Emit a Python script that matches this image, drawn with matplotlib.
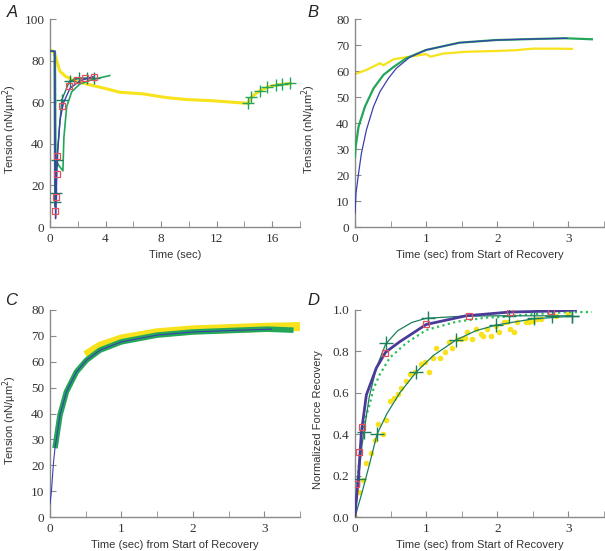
import matplotlib.pyplot as plt
from matplotlib.ticker import MultipleLocator

# ---- panel A ----
a_yel_t = [0, 0.25, 0.4, 0.7, 1.1, 1.7, 2.6, 4.1, 5.0, 6.7, 8.4, 9.8, 11.7, 13.5, 14.25]
a_yel_v = [85, 84.5, 82, 75, 72.5, 70.5, 68.8, 66.4, 64.8, 64.0, 62.2, 61.3, 60.7, 59.8, 59.5]
a_rec_t = [14.25, 14.5, 15.1, 15.65, 16.25, 16.7, 17.3]
a_rec_v = [59.5, 62.5, 65.5, 67.2, 68.2, 68.6, 69.0]

a_blue_t = [0, 0.35, 0.4, 0.45, 0.53, 0.72, 0.96, 1.44, 2.16, 3.1]
a_blue_v = [84.5, 84.5, 4, 16, 33.8, 51.4, 59.5, 66.7, 70.3, 72.3]
a_sq_t = [0.38, 0.43, 0.48, 0.53, 0.85, 1.39, 1.97, 2.55, 3.17]
a_sq_v = [7.5, 14.3, 25.7, 34, 58.4, 67.8, 70.7, 71.8, 72.3]

a_teal_t = [0, 0.3, 0.34, 0.36, 0.43, 0.48, 0.85, 1.41, 2.07, 2.64, 3.17]
a_teal_v = [84.5, 84.5, 10, 11.8, 16.5, 32, 61.2, 70.2, 71.4, 71.6, 71.6]
a_teal_mk_t = [0.36, 0.43, 0.48, 0.85, 1.41, 2.07, 2.64, 3.17]
a_teal_mk_v = [11.8, 16.5, 32, 61.2, 70.2, 71.4, 71.6, 71.6]

a_grn_t = [0, 0.38, 0.42, 0.5, 0.7, 0.93, 1.0, 1.2, 1.56, 2.16, 3.1, 4.3]
a_grn_v = [84.5, 84.5, 33, 31, 29, 27, 43, 57.8, 65, 68.8, 71, 72.8]

# ---- panel B ----
b_yel_t = [0, 0.16, 0.35, 0.4, 0.54, 0.72, 1.0, 1.06, 1.24, 1.56, 1.98, 2.26, 2.5, 2.86, 3.05]
b_yel_v = [58.8, 60.4, 63, 62.2, 64.5, 65.3, 66.5, 65.5, 66.7, 67.4, 67.7, 68.0, 68.6, 68.6, 68.5]
b_grn_t = [0, 0.01, 0.05, 0.14, 0.26, 0.4, 0.54, 0.72, 1.0, 1.47, 1.98, 2.5, 2.96, 3.33]
b_grn_v = [27, 31, 38.6, 46.3, 53.3, 58.5, 61.5, 64.9, 68.1, 70.9, 71.9, 72.3, 72.6, 72.2]
b_blu_t = [0, 0.014, 0.05, 0.09, 0.16, 0.26, 0.35, 0.47, 0.58, 0.77, 1.0, 1.47, 1.98, 2.5, 2.98]
b_blu_v = [5.3, 13, 20.6, 28.3, 37.3, 46.3, 52, 57.2, 61, 65.3, 68.1, 70.9, 71.9, 72.3, 72.6]

# ---- panel C ----
c_yel_t = [0.5, 0.7, 1.0, 1.5, 2.0, 2.5, 3.0, 3.5]
c_yel_v = [62.5, 66, 68.8, 71.2, 72.3, 72.8, 73.3, 73.6]
c_grn_t = [0.07, 0.14, 0.23, 0.37, 0.51, 0.7, 1.0, 1.5, 2.0, 2.56, 3.04, 3.41]
c_grn_v = [26.6, 39.4, 48.4, 56.1, 60.6, 64.5, 67.7, 70.3, 71.5, 72.1, 72.6, 72.2]
c_blu_t = [0, 0.02, 0.05, 0.07, 0.14, 0.23, 0.37, 0.51, 0.7, 1.0, 1.5, 2.0, 2.56, 3.1]
c_blu_v = [5, 10, 21.4, 26.6, 39.4, 48.4, 56.1, 60.6, 64.5, 67.7, 70.3, 71.5, 72.1, 72.6]

# ---- panel D ----
d_blu_t = [0, 0.01, 0.05, 0.09, 0.16, 0.3, 0.43, 0.63, 1.0, 1.56, 2.17, 2.77, 3.1]
d_blu_v = [0, 0.05, 0.2, 0.41, 0.59, 0.72, 0.796, 0.847, 0.93, 0.972, 0.99, 0.995, 1.0]
d_sq_t = [0.02, 0.06, 0.1, 0.42, 1.0, 1.6, 2.18, 2.76]
d_sq_v = [0.158, 0.316, 0.437, 0.79, 0.93, 0.972, 0.99, 0.996]
d_dot_t = [0, 0.03, 0.07, 0.1, 0.15, 0.21, 0.26, 0.35, 0.49, 0.72, 1.0, 1.42, 1.84, 2.0, 2.5, 3.0, 3.33]
d_dot_v = [0, 0.17, 0.3, 0.4, 0.48, 0.55, 0.62, 0.69, 0.77, 0.84, 0.903, 0.943, 0.963, 0.965, 0.98, 0.99, 0.99]
d_fit1_t = [0, 0.05, 0.1, 0.2, 0.3, 0.43, 0.6, 0.8, 1.0, 1.5, 2.0, 3.05]
d_fit1_v = [0, 0.19, 0.35, 0.58, 0.72, 0.835, 0.9, 0.94, 0.96, 0.97, 0.972, 0.972]
d_fit1_mk_t = [0.05, 0.43, 1.02, 2.17, 2.77, 3.05]
d_fit1_mk_v = [0.183, 0.839, 0.963, 0.972, 0.972, 0.972]
d_fit2_t = [0, 0.1, 0.2, 0.31, 0.45, 0.63, 0.86, 1.1, 1.42, 1.7, 1.98, 2.5, 3.05]
d_fit2_v = [0, 0.12, 0.25, 0.40, 0.5, 0.6, 0.70, 0.78, 0.855, 0.9, 0.927, 0.957, 0.97]
d_fit2_mk_t = [0.12, 0.31, 0.86, 1.42, 1.98, 2.52, 3.05]
d_fit2_mk_v = [0.41, 0.40, 0.70, 0.855, 0.927, 0.96, 0.97]
d_yel_t = [0, 0.06, 0.11, 0.16, 0.22, 0.28, 0.33, 0.39, 0.44, 0.49, 0.55, 0.6, 0.65, 0.71,
           0.77, 0.84, 0.93, 0.99, 1.04, 1.1, 1.14, 1.2, 1.26, 1.32, 1.37, 1.43, 1.49, 1.55,
           1.58, 1.65, 1.7, 1.77, 1.8, 1.86, 1.91, 1.98, 2.02, 2.09, 2.13, 2.18, 2.24, 2.28,
           2.4, 2.45, 2.5, 2.56, 2.62, 2.82, 3.0]
d_yel_v = [0.0, 0.12, 0.18, 0.26, 0.31, 0.37, 0.45, 0.40, 0.47, 0.56, 0.576, 0.594, 0.625, 0.657,
           0.689, 0.70, 0.738, 0.747, 0.70, 0.767, 0.815, 0.767, 0.796, 0.844, 0.818, 0.86, 0.86, 0.865,
           0.895, 0.86, 0.908, 0.882, 0.875, 0.908, 0.875, 0.924, 0.895, 0.94, 0.94, 0.91, 0.895, 0.94,
           0.94, 0.94, 0.947, 0.957, 0.957, 0.973, 0.985]

YEL = '#f7e21b'
GRN = '#23a65a'
TEAL = '#1b7f5c'
BLU = '#3b3fae'
PUR = '#4a3b98'
RED = '#e2505e'

serif = 'Liberation Serif'
sans = 'Liberation Sans'

fig = plt.figure(figsize=(6.05, 5.51), dpi=100)
W, H = 605, 551


def make_ax(l, t, r, b):
    ax = fig.add_axes([l / W, 1 - b / H, (r - l) / W, (b - t) / H])
    for s in ['top', 'right']:
        ax.spines[s].set_visible(False)
    for s in ['left', 'bottom']:
        ax.spines[s].set_color('#8a8a8a')
        ax.spines[s].set_linewidth(1.0)
    ax.tick_params(which='both', direction='in', color='#8a8a8a', labelcolor='#333333',
                   labelsize=9.5, pad=4, length=4)
    return ax


def finish(ax, xlabel, ylabel, ylab_px):
    w = ax.get_position().width * W
    ax.set_xlabel(xlabel, family=sans, fontsize=8, color='#333333', labelpad=4)
    ax.set_ylabel(ylabel, family=sans, fontsize=8, color='#333333')
    ax.yaxis.set_label_coords(-ylab_px / w, 0.47)
    for lab in ax.get_xticklabels() + ax.get_yticklabels():
        lab.set_family(serif)


TENS = 'Tension (nN/µm$^2$)'
REC = 'Time (sec) from Start of Recovery'

# Panel A
axA = make_ax(50, 19, 300, 227)
axA.plot(a_yel_t, a_yel_v, color=YEL, lw=2.2, zorder=2)
axA.plot(a_rec_t, a_rec_v, color=YEL, lw=2.2, zorder=2)
axA.plot(a_rec_t, a_rec_v, ls='none', marker='+', ms=9, mew=1.0, color=GRN, zorder=4)
axA.plot(a_grn_t, a_grn_v, color=GRN, lw=1.2, zorder=3)
axA.plot(a_teal_t, a_teal_v, color=TEAL, lw=1.0, zorder=3)
axA.plot(a_teal_mk_t, a_teal_mk_v, ls='none', marker='+', ms=9, mew=1.0, color=TEAL, zorder=4)
axA.plot(a_blue_t, a_blue_v, color=BLU, lw=1.0, zorder=4)
axA.plot(a_sq_t, a_sq_v, ls='none', marker='s', ms=5, mfc='none', mec=RED, mew=0.9, zorder=5)
axA.set_xlim(0, 18)
axA.set_ylim(0, 100)
axA.set_xticks([0, 4, 8, 12, 16])
axA.xaxis.set_minor_locator(MultipleLocator(2))
axA.set_yticks([0, 20, 40, 60, 80, 100])
finish(axA, 'Time (sec)', TENS, 31)
fig.text(7 / W, 1 - 17 / H, 'A', family=sans, style='italic', fontsize=12, color='#222222',
         va='baseline')

# Panel B
axB = make_ax(355, 19, 604, 227)
axB.plot(b_yel_t, b_yel_v, color=YEL, lw=1.6, zorder=2)
axB.plot(b_grn_t, b_grn_v, color=GRN, lw=1.6, zorder=3)
axB.plot(b_blu_t, b_blu_v, color=BLU, lw=0.9, zorder=4)
axB.set_xlim(0, 3.5)
axB.set_ylim(0, 80)
axB.set_xticks([0, 1, 2, 3])
axB.xaxis.set_minor_locator(MultipleLocator(0.5))
axB.set_yticks(range(0, 81, 10))
finish(axB, REC, TENS, 37)
fig.text(307 / W, 1 - 17 / H, 'B', family=sans, style='italic', fontsize=12, color='#222222',
         va='baseline')

# Panel C
axC = make_ax(50, 310, 300, 517)
axC.plot(c_yel_t, c_yel_v, color=YEL, lw=6.5, solid_capstyle='butt', zorder=2)
axC.plot(c_grn_t, c_grn_v, color=GRN, lw=4.0, solid_capstyle='butt', zorder=3)
axC.plot(c_blu_t, c_blu_v, color=BLU, lw=0.8, zorder=4)
axC.set_xlim(0, 3.5)
axC.set_ylim(0, 80)
axC.set_xticks([0, 1, 2, 3])
axC.xaxis.set_minor_locator(MultipleLocator(0.5))
axC.set_yticks(range(0, 81, 10))
finish(axC, REC, TENS, 31)
fig.text(5 / W, 1 - 305 / H, 'C', family=sans, style='italic', fontsize=12, color='#222222',
         va='baseline')

# Panel D
axD = make_ax(355, 310, 604, 517)
axD.plot(d_yel_t, d_yel_v, ls='none', marker='o', ms=4, color=YEL, mec='none', zorder=2)
axD.plot(d_dot_t, d_dot_v, color='#2fbf5a', lw=1.6, ls=(0, (1, 1.5)), zorder=3)
axD.plot(d_fit2_t, d_fit2_v, color=TEAL, lw=0.9, zorder=3)
axD.plot(d_fit2_mk_t, d_fit2_mk_v, ls='none', marker='+', ms=10, mew=1.0, color=TEAL, zorder=4)
axD.plot(d_fit1_t, d_fit1_v, color=TEAL, lw=0.9, zorder=3)
axD.plot(d_fit1_mk_t, d_fit1_mk_v, ls='none', marker='+', ms=10, mew=1.0, color=TEAL, zorder=4)
axD.plot(d_blu_t, d_blu_v, color=PUR, lw=2.0, zorder=4)
axD.plot(d_sq_t, d_sq_v, ls='none', marker='s', ms=5, mfc='none', mec=RED, mew=0.9, zorder=5)
axD.set_xlim(0, 3.5)
axD.set_ylim(0, 1.0)
axD.set_xticks([0, 1, 2, 3])
axD.xaxis.set_minor_locator(MultipleLocator(0.5))
axD.set_yticks([0, 0.2, 0.4, 0.6, 0.8, 1.0])
axD.set_yticklabels(['0.0', '0.2', '0.4', '0.6', '0.8', '1.0'])
finish(axD, REC, 'Normalized Force Recovery', 32)
fig.text(307 / W, 1 - 305 / H, 'D', family=sans, style='italic', fontsize=12, color='#222222',
         va='baseline')

fig.savefig('out.png', dpi=100)
